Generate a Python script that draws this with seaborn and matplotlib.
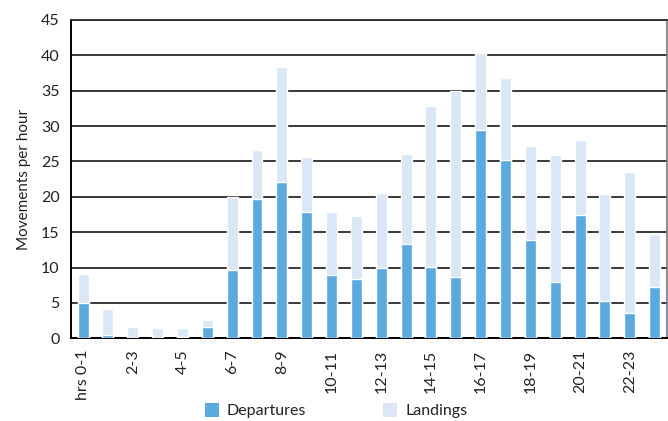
import matplotlib
matplotlib.use("Agg")
import matplotlib.pyplot as plt
import seaborn as sns
import pandas as pd
import numpy as np
from matplotlib.patches import Patch

sns.set_theme(style="white")
plt.rcParams['font.family'] = ['Lato', 'DejaVu Sans']

hours = [f"{h}-{h+1}" for h in range(24)]
tick_labels = ["hrs 0-1", "", "2-3", "", "4-5", "", "6-7", "", "8-9", "", "10-11", "",
               "12-13", "", "14-15", "", "16-17", "", "18-19", "", "20-21", "", "22-23", ""]
departures = [5.0, 0.5, 0.0, 0.0, 0.2, 1.6, 9.7, 19.7, 22.1, 17.9, 9.0, 8.4,
              10.0, 13.3, 10.1, 8.7, 29.5, 25.2, 13.9, 8.0, 17.4, 5.3, 3.6, 7.3]
landings = [4.1, 3.7, 1.6, 1.45, 1.25, 1.0, 10.3, 6.9, 16.3, 7.7, 8.9, 8.9,
            10.5, 12.8, 22.7, 26.3, 10.9, 11.6, 13.3, 17.9, 10.6, 15.1, 19.9, 7.5]

df = pd.DataFrame({"hour": hours, "Departures": departures, "Landings": landings})
df["total"] = df["Departures"] + df["Landings"]

dep_color = "#5aa9df"
land_color = "#d9e7f6"

fig = plt.figure(figsize=(6.68, 4.21), dpi=100)
ax = fig.add_axes([0.1058, 0.1964, 0.8927, 0.7561])

# stacked bars: full height in the light colour, departures drawn over it
sns.barplot(data=df, x="hour", y="total", color=land_color, width=0.44,
            saturation=1, ax=ax, zorder=3)
sns.barplot(data=df, x="hour", y="Departures", color=dep_color, width=0.44,
            saturation=1, ax=ax, zorder=4)

ax.set_ylim(0, 45)
ax.set_xlim(-0.5, 23.5)
ax.set_yticks(np.arange(0, 46, 5))
ax.yaxis.grid(True, color="#2a2a2a", linewidth=1.3, zorder=1)
ax.set_axisbelow(True)

ax.set_xticks(np.arange(24))
ax.set_xticklabels(tick_labels, rotation=90, fontsize=11.5, color="#222222")
ax.tick_params(axis="x", length=0, pad=8)
# boundary tick marks between categories
ax.set_xticks(np.arange(-0.5, 24, 1), minor=True)
ax.tick_params(axis="x", which="minor", length=7, width=1.2, color="black", direction="out")
ax.tick_params(axis="y", length=6, width=1.3, color="#2a2a2a", direction="out",
               labelsize=11.5, labelcolor="#222222", pad=2)

ax.set_xlabel("")
ax.set_ylabel("Movements per hour", fontsize=11, color="#222222", labelpad=7)

for s in ["left", "bottom"]:
    ax.spines[s].set_color("black")
    ax.spines[s].set_linewidth(1.4)
ax.spines["top"].set_color("#2a2a2a")
ax.spines["top"].set_linewidth(1.3)
ax.spines["right"].set_color("#777777")
ax.spines["right"].set_linewidth(1.2)

handles = [Patch(facecolor=dep_color, edgecolor="none", label="Departures"),
           Patch(facecolor=land_color, edgecolor="none", label="Landings")]
fig.legend(handles=handles, loc="lower center", bbox_to_anchor=(0.503, -0.028), ncol=2,
           frameon=False, fontsize=11.5, handlelength=0.9, handleheight=0.9,
           columnspacing=4.8, handletextpad=0.5, labelcolor="#222222")

fig.savefig("out.png", dpi=100)
